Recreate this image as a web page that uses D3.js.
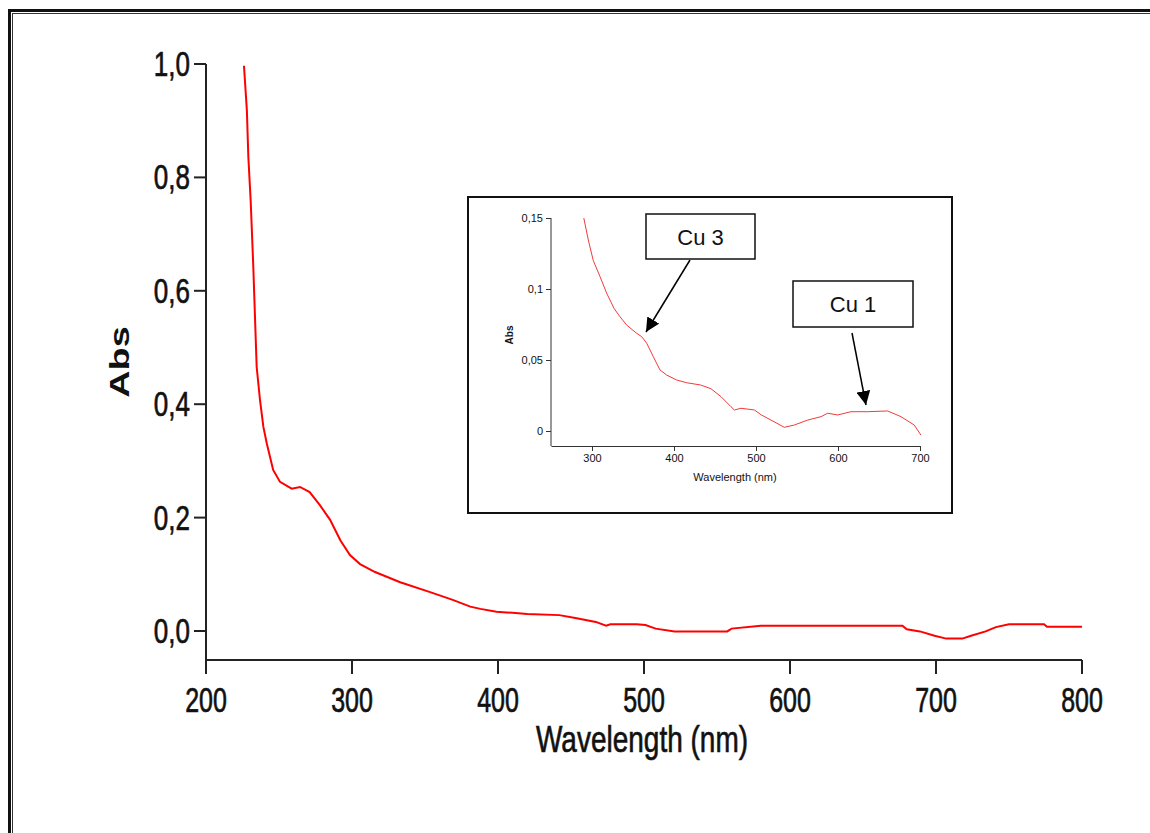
<!DOCTYPE html>
<html>
<head>
<meta charset="utf-8">
<script src="https://cdn.jsdelivr.net/npm/d3@7"></script>
<style>
  body { margin: 0; background: #fff; }
  svg { display: block; font-family: Arial, "Liberation Sans", sans-serif; }
</style>
</head>
<body>
<div id="chart"></div>
<script>
// Main spectrum: wavelength (nm) and absorbance.
const mainWave = [226, 228, 229, 230.6, 232.4, 234.7, 237, 239.3, 241.6, 246, 250.7, 258.7, 264.4,
    271, 278, 285, 292, 298.6, 305.5, 315.8, 333, 353, 369, 381, 388, 399, 410, 420, 442, 453,
    467, 474, 477, 495, 501, 508, 521, 557, 560, 580, 677, 680, 689, 699, 707, 718, 724, 734,
    741, 750, 774, 776, 800];
const mainAbs = [0.997, 0.918, 0.836, 0.759, 0.642, 0.466, 0.407, 0.36, 0.331, 0.284, 0.263, 0.251, 0.254,
    0.245, 0.222, 0.196, 0.16, 0.134, 0.118, 0.104, 0.086, 0.069, 0.055, 0.043, 0.039, 0.034, 0.032, 0.030, 0.028, 0.023,
    0.016, 0.0093, 0.0118, 0.0118, 0.0106, 0.0042, -0.0007, -0.0007, 0.0042, 0.0093, 0.0093, 0.003, -0.0007, -0.0083, -0.0134, -0.0134, -0.0083, -0.0007,
    0.0069, 0.0118, 0.0118, 0.0074, 0.0074];
const mainXTicks = [200, 300, 400, 500, 600, 700, 800];
const mainYTicks = [0, 0.2, 0.4, 0.6, 0.8, 1.0];

// Inset spectrum (zoomed region).
const insetWave = [290, 295.5, 301.6, 309.8, 317.9, 326.8, 334.1, 342.3, 354.5, 360.6, 366.7, 374.8, 382.9,
    391.1, 403.3, 415.5, 432.4, 445, 457.3, 469.5, 473.6, 481.7, 498, 506.5, 518.3, 534.5, 546.7, 563,
    579.3, 587.4, 599.6, 615.9, 636.2, 660.6, 676.8, 693, 701];
const insetAbs = [0.15, 0.1345, 0.120, 0.1087, 0.097, 0.0864, 0.0805, 0.0746, 0.0688, 0.0664, 0.0618, 0.0523, 0.043,
    0.0394, 0.0359, 0.034, 0.0324, 0.0298, 0.0242, 0.0171, 0.0148, 0.016, 0.0148, 0.0113, 0.0077, 0.0026, 0.0042, 0.0077,
    0.0101, 0.0125, 0.0113, 0.0136, 0.0136, 0.0141, 0.0101, 0.0042, -0.0028];
const insetXTicks = [300, 400, 500, 600, 700];
const insetYTicks = [0, 0.05, 0.1, 0.15];

const width = 1150, height = 833;
const fmtComma = d => d3.format(".1f")(d).replace(".", ",");
const fmtInset = d => d === 0 ? "0" : String(d).replace(".", ",");

const svg = d3.select("#chart").append("svg")
    .attr("width", width)
    .attr("height", height)
    .attr("viewBox", [0, 0, width, height]);

svg.append("rect").attr("width", width).attr("height", height).attr("fill", "#fff");

// Double frame round the figure (runs off right and bottom edges).
svg.append("rect").attr("x", 9.5).attr("y", 10.5).attr("width", 1160).attr("height", 900)
    .attr("fill", "none").attr("stroke", "#111").attr("stroke-width", 3);
svg.append("rect").attr("x", 12.5).attr("y", 13.5).attr("width", 1160).attr("height", 900)
    .attr("fill", "none").attr("stroke", "#333").attr("stroke-width", 1);

// Text drawn taller than wide, like the stretched original.
function tallText(g, x, y, str, size, k, anchor) {
    return g.append("text")
        .attr("transform", `translate(${x},${y}) scale(1,${k})`)
        .attr("text-anchor", anchor)
        .attr("font-size", size)
        .attr("fill", "#111")
        .attr("stroke", "#111")
        .attr("stroke-width", 0.5)
        .text(str);
}

// ---------- main chart ----------
const x = d3.scaleLinear().domain([200, 800]).range([206, 1082]);
const y = d3.scaleLinear().domain([0, 1]).range([631, 64]);

const main = svg.append("g");

// y axis
main.append("line").attr("x1", 206).attr("x2", 206).attr("y1", y(1)).attr("y2", 660)
    .attr("stroke", "#222").attr("stroke-width", 2);
mainYTicks.forEach(t => {
    main.append("line").attr("x1", 194).attr("x2", 206).attr("y1", y(t)).attr("y2", y(t))
        .attr("stroke", "#222").attr("stroke-width", 2);
    tallText(main, 190, y(t) + 12, fmtComma(t), 26, 1.36, "end");
});

// x axis
main.append("line").attr("x1", x(200)).attr("x2", x(800)).attr("y1", 660).attr("y2", 660)
    .attr("stroke", "#222").attr("stroke-width", 2);
mainXTicks.forEach(t => {
    main.append("line").attr("x1", x(t)).attr("x2", x(t)).attr("y1", 660).attr("y2", 674)
        .attr("stroke", "#222").attr("stroke-width", 2);
    tallText(main, x(t), 712, String(t), 25, 1.4, "middle");
});

tallText(main, 642, 752, "Wavelength (nm)", 28, 1.33, "middle");
main.append("text")
    .attr("transform", "translate(129,362) rotate(-90) scale(1.4,1)")
    .attr("text-anchor", "middle")
    .attr("font-size", 27)
    .attr("font-weight", "bold")
    .attr("fill", "#111")
    .text("Abs");

const mainData = mainWave.map((w, i) => ({ w, a: mainAbs[i] }));
main.append("path")
    .datum(mainData)
    .attr("fill", "none")
    .attr("stroke", "#ff0000")
    .attr("stroke-width", 2)
    .attr("d", d3.line().x(d => x(d.w)).y(d => y(d.a)));

// ---------- inset ----------
const inset = svg.append("g");
inset.append("rect").attr("x", 468).attr("y", 197).attr("width", 484).attr("height", 316)
    .attr("fill", "#fff").attr("stroke", "#111").attr("stroke-width", 2);

const ix = d3.scaleLinear().domain([250, 700]).range([551, 920]);
const iy = d3.scaleLinear().domain([0, 0.15]).range([431, 218]);

inset.append("g")
    .attr("transform", "translate(0,446)")
    .call(d3.axisBottom(ix).tickValues(insetXTicks).tickSize(5).tickSizeOuter(0).tickFormat(d => d))
    .call(g => g.selectAll("text").attr("font-size", 11).attr("font-family", "Arial, sans-serif").attr("fill", "#111"))
    .call(g => g.selectAll("line,path").attr("stroke", "#333"));

inset.append("g")
    .attr("transform", "translate(551,0)")
    .call(d3.axisLeft(iy).tickValues(insetYTicks).tickSize(5).tickSizeOuter(0).tickFormat(fmtInset))
    .call(g => g.select(".domain").attr("d", `M0,${iy(0.15)}V446`))
    .call(g => g.selectAll("text").attr("font-size", 11).attr("font-family", "Arial, sans-serif").attr("fill", "#111"))
    .call(g => g.selectAll("line,path").attr("stroke", "#333"));

inset.append("text").attr("x", 735).attr("y", 481).attr("text-anchor", "middle")
    .attr("font-size", 11).attr("fill", "#111").text("Wavelength (nm)");
inset.append("text").attr("transform", "translate(513,335) rotate(-90)").attr("text-anchor", "middle")
    .attr("font-size", 10).attr("font-weight", "bold").attr("fill", "#111").text("Abs");

const insetData = insetWave.map((w, i) => ({ w, a: insetAbs[i] }));
inset.append("path")
    .datum(insetData)
    .attr("fill", "none")
    .attr("stroke", "#f23a3a")
    .attr("stroke-width", 1)
    .attr("d", d3.line().x(d => ix(d.w)).y(d => iy(d.a)));

// callouts
svg.append("defs").append("marker")
    .attr("id", "head")
    .attr("viewBox", "0 0 10 10")
    .attr("refX", 10).attr("refY", 5)
    .attr("markerWidth", 14).attr("markerHeight", 14)
    .attr("markerUnits", "userSpaceOnUse")
    .attr("orient", "auto")
    .append("path").attr("d", "M0,0L10,5L0,10Z").attr("fill", "#000");

function callout(bx, by, bw, bh, label, x1, y1, x2, y2) {
    inset.append("rect").attr("x", bx).attr("y", by).attr("width", bw).attr("height", bh)
        .attr("fill", "#fff").attr("stroke", "#111").attr("stroke-width", 1.5);
    inset.append("text").attr("x", bx + bw / 2).attr("y", by + bh / 2 + 8).attr("text-anchor", "middle")
        .attr("font-size", 22).attr("fill", "#111").text(label);
    inset.append("line").attr("x1", x1).attr("y1", y1).attr("x2", x2).attr("y2", y2)
        .attr("stroke", "#000").attr("stroke-width", 1.5).attr("marker-end", "url(#head)");
}
callout(646, 214, 109, 45, "Cu 3", 690, 260, 646, 332);
callout(793, 281, 120, 46, "Cu 1", 852, 333, 866, 405);
</script>
</body>
</html>
